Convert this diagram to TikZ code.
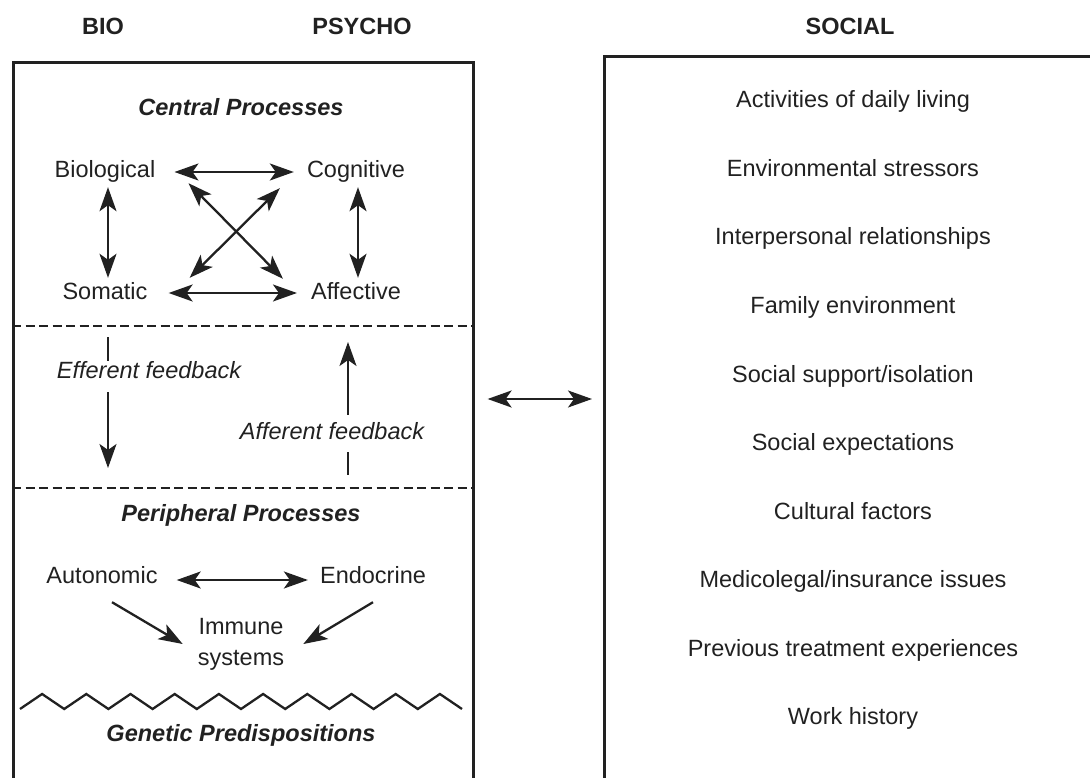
\documentclass[tikz,border=0pt]{standalone}
\usepackage{fontspec}
\setmainfont{Liberation Sans}
\usetikzlibrary{arrows.meta}
\definecolor{ink}{gray}{0.13}
\tikzset{
  lbl/.style={inner sep=0pt, text height=17pt, text depth=5pt, text=ink, font=\fontsize{23.5}{30}\selectfont},
  heading/.style={lbl, font=\fontsize{23.5}{30}\selectfont\bfseries},
  section/.style={lbl, font=\fontsize{23.5}{30}\selectfont\bfseries\itshape},
  note/.style={lbl, font=\fontsize{23.5}{30}\selectfont\itshape},
  panel/.style={draw=ink, line width=2.6pt, inner sep=0pt, anchor=north west},
  wire/.style={draw=ink, line width=2.3pt},
  divider/.style={draw=ink, line width=2.5pt, dash pattern=on 9pt off 4.5pt},
  hlink/.style={wire, <->, shorten <=19pt, shorten >=13pt}
}
\begin{document}
\begin{tikzpicture}[x=1pt, y=-1pt, >={Stealth[length=24pt,width=17pt,inset=6pt]}]
\useasboundingbox (0,0) rectangle (1090,778);
\clip (0,0) rectangle (1090,778);

% Column headings
\node[heading] (bio) at (103,29) {BIO};
\node[heading] (psycho) at (362,29) {PSYCHO};
\node[heading] (soc) at (850,29) {SOCIAL};

% Panels (running off the page)
\node[panel, minimum width=460pt, minimum height=780pt] (biopsy) at (12,61) {};
\node[panel, minimum width=700pt, minimum height=780pt] (social) at (603,55) {};

% Central processes
\node[section] (central) at (241,110) {Central Processes};
\node[lbl] (biol) at (105,172) {Biological};
\node[lbl] (cogn) at (356,172) {Cognitive};
\node[lbl] (soma) at (105,293) {Somatic};
\node[lbl] (affe) at (356,293) {Affective};
\draw[hlink] (biol.east) -- (cogn.west);
\draw[hlink, shorten <=21pt, shorten >=14pt] (soma.east) -- (affe.west);
\draw[wire, <->, shorten <=4pt, shorten >=4pt] ([xshift=3pt]biol.south) -- ([xshift=3pt]soma.north);
\draw[wire, <->, shorten <=4pt, shorten >=4pt] ([xshift=2pt]cogn.south) -- ([xshift=2pt]affe.north);
\draw[wire, <->] ([xshift=33pt]biol.south east) -- ([xshift=-28pt,yshift=3pt]affe.north west);
\draw[wire, <->] ([xshift=-27pt,yshift=-5pt]cogn.south west) -- ([xshift=42pt,yshift=4pt]soma.north east);

% Feedback band
\coordinate (cut1) at (0,326);
\coordinate (cut2) at (0,488);
\draw[divider] (biopsy.west |- cut1) -- (biopsy.east |- cut1);
\draw[divider] (biopsy.west |- cut2) -- (biopsy.east |- cut2);

\node[note] (effb) at (149,372) {Efferent feedback};
\coordinate (effTop) at (108,337);
\coordinate (effTip) at (108,468);
\draw[wire] (effTop) -- (effTop |- effb.north);
\draw[wire, ->, shorten <=9pt] (effTop |- effb.south) -- (effTip);

\node[note] (affb) at (332,433) {Afferent feedback};
\coordinate (affTip) at (348,342);
\coordinate (affFoot) at (348,475);
\draw[wire, ->, shorten <=7pt] (affb.north -| affTip) -- (affTip);
\draw[wire, shorten <=8pt] (affb.south -| affFoot) -- (affFoot);

% Peripheral processes
\node[section] (periph) at (241,515) {Peripheral Processes};
\node[lbl] (auto) at (102,577) {Autonomic};
\node[lbl] (endo) at (373,577) {Endocrine};
\node[align=center, inner sep=0pt, text=ink, font=\fontsize{23.5}{31}\selectfont] (immu) at (241,644) {Immune\\systems};
\draw[hlink, shorten <=19pt, shorten >=12pt] ([yshift=-3pt]auto.east) -- ([yshift=-3pt]endo.west);
\draw[wire, ->] ([xshift=10pt,yshift=-14pt]auto.south) -- ([xshift=-15pt]immu.west);
\draw[wire, ->] ([yshift=-14pt]endo.south) -- ([xshift=19pt]immu.east);

% Genetic base
\draw[wire, line join=miter] (20,709) \foreach \k in {0,...,9} { -- ({42.1+44.2*\k},694) -- ({64.2+44.2*\k},709) };
\node[section] (genes) at (241,735) {Genetic Predispositions};

% Social factors
\foreach \item [count=\i] in {Activities of daily living, Environmental stressors,
    Interpersonal relationships, Family environment, Social support/isolation,
    Social expectations, Cultural factors, Medicolegal/insurance issues,
    Previous treatment experiences, Work history} {
  \node[lbl] (item\i) at (853,{102+68.5*(\i-1)}) {\item};
}

% Coupling between panels
\coordinate (mid) at (540,399);
\draw[wire, <->, shorten <=13pt, shorten >=11pt] (biopsy.east |- mid) -- (social.west |- mid);
\end{tikzpicture}
\end{document}
